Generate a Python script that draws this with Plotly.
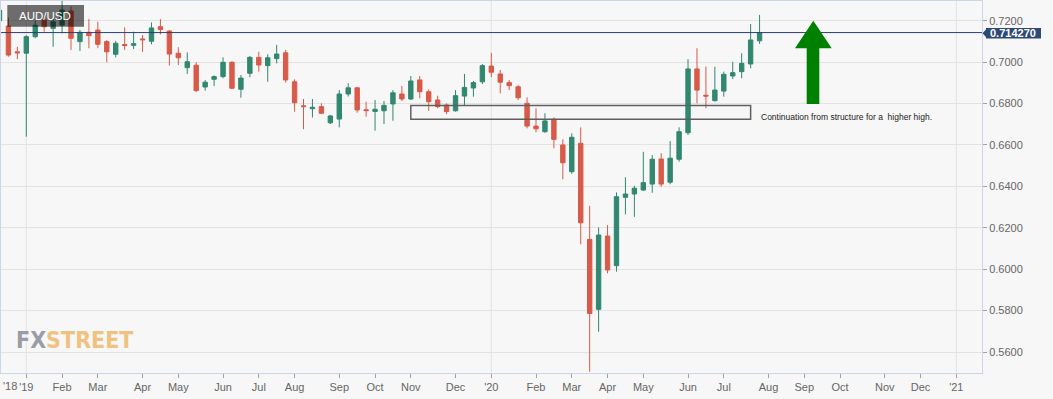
import pandas as pd
import plotly.graph_objects as go

# ---------------- data (weekly AUD/USD candles, week ending Friday) ----------------
first_week = "2018-12-14"
opens = [0.7200, 0.7174, 0.7050,
         0.7043, 0.7123, 0.7203, 0.7163, 0.7179, 0.7247, 0.7099, 0.7144, 0.7155, 0.7099,
         0.7038, 0.7085, 0.7081, 0.7112, 0.7101, 0.7171, 0.7150, 0.7043, 0.6973, 0.6985,
         0.6880, 0.6917, 0.6930, 0.6999, 0.6869, 0.6946, 0.7023, 0.6983, 0.7017, 0.7045,
         0.6905, 0.6789, 0.6775, 0.6785, 0.6707, 0.6725, 0.6846, 0.6876, 0.6770, 0.6762,
         0.6765, 0.6798, 0.6846, 0.6822, 0.6914, 0.6857, 0.6817, 0.6793, 0.6765, 0.6836,
         0.6875, 0.6905, 0.6981, 0.6943, 0.6901, 0.6881, 0.6801, 0.6691, 0.6664, 0.6724,
         0.6600, 0.6471, 0.6608, 0.6144, 0.5806, 0.6160, 0.6017, 0.6347, 0.6363, 0.6382,
         0.6411, 0.6532, 0.6420, 0.6531, 0.6659, 0.6967, 0.6840, 0.6814, 0.6860, 0.6933,
         0.6954, 0.6991, 0.7103]
highs = [0.7262, 0.7215, 0.7074,
         0.7130, 0.7200, 0.7220, 0.7210, 0.7296, 0.7268, 0.7155, 0.7208, 0.7195, 0.7107,
         0.7103, 0.7168, 0.7147, 0.7131, 0.7192, 0.7208, 0.7155, 0.7072, 0.7047, 0.6999,
         0.6914, 0.6936, 0.7023, 0.7005, 0.6938, 0.7030, 0.7050, 0.7038, 0.7083, 0.7059,
         0.6917, 0.6822, 0.6822, 0.6801, 0.6745, 0.6865, 0.6898, 0.6878, 0.6809, 0.6817,
         0.6812, 0.6865, 0.6885, 0.6933, 0.6933, 0.6869, 0.6838, 0.6801, 0.6865, 0.6943,
         0.6909, 0.6991, 0.7045, 0.6962, 0.6914, 0.6889, 0.6830, 0.6777, 0.6753, 0.6733,
         0.6627, 0.6656, 0.6685, 0.6306, 0.6202, 0.6213, 0.6371, 0.6444, 0.6403, 0.6567,
         0.6551, 0.6560, 0.6619, 0.6685, 0.7014, 0.7067, 0.6978, 0.6978, 0.6954, 0.7002,
         0.7043, 0.7184, 0.7228]
lows = [0.7180, 0.7026, 0.7014,
        0.6640, 0.7115, 0.7147, 0.7074, 0.7139, 0.7059, 0.7054, 0.7067, 0.7067, 0.6999,
        0.7023, 0.7059, 0.7063, 0.7050, 0.7086, 0.7134, 0.6983, 0.6986, 0.6943, 0.6857,
        0.6862, 0.6885, 0.6922, 0.6869, 0.6828, 0.6927, 0.6954, 0.6905, 0.6994, 0.6901,
        0.6761, 0.6676, 0.6733, 0.6749, 0.6701, 0.6685, 0.6834, 0.6756, 0.6736, 0.6669,
        0.6701, 0.6717, 0.6812, 0.6817, 0.6825, 0.6765, 0.6777, 0.6749, 0.6761, 0.6793,
        0.6833, 0.6894, 0.6927, 0.6849, 0.6865, 0.6817, 0.6680, 0.6661, 0.6659, 0.6584,
        0.6434, 0.6460, 0.6120, 0.5505, 0.5698, 0.5980, 0.5988, 0.6265, 0.6253, 0.6379,
        0.6369, 0.6398, 0.6410, 0.6519, 0.6648, 0.6801, 0.6777, 0.6809, 0.6833, 0.6918,
        0.6922, 0.6970, 0.7088]
closes = [0.7250, 0.7034, 0.7045,
          0.7123, 0.7178, 0.7171, 0.7195, 0.7252, 0.7115, 0.7144, 0.7128, 0.7086, 0.7050,
          0.7091, 0.7080, 0.7089, 0.7108, 0.7165, 0.7157, 0.7039, 0.7021, 0.7002, 0.6862,
          0.6903, 0.6930, 0.6999, 0.6874, 0.6923, 0.7023, 0.6986, 0.7021, 0.7039, 0.6914,
          0.6804, 0.6785, 0.6782, 0.6753, 0.6740, 0.6846, 0.6876, 0.6769, 0.6766, 0.6772,
          0.6791, 0.6852, 0.6822, 0.6909, 0.6857, 0.6809, 0.6785, 0.6761, 0.6838, 0.6878,
          0.6901, 0.6983, 0.6951, 0.6903, 0.6886, 0.6828, 0.6691, 0.6678, 0.6716, 0.6627,
          0.6514, 0.6637, 0.6224, 0.5786, 0.6165, 0.5996, 0.6350, 0.6363, 0.6391, 0.6418,
          0.6531, 0.6411, 0.6536, 0.6664, 0.6967, 0.6865, 0.6836, 0.6865, 0.6941, 0.6949,
          0.6994, 0.7107, 0.71427]

tick_dates = ["2019-01-04", "2019-02-01", "2019-03-01", "2019-04-05", "2019-05-03",
              "2019-06-07", "2019-07-05", "2019-08-02", "2019-09-06", "2019-10-04",
              "2019-11-01", "2019-12-06", "2020-01-03", "2020-02-07", "2020-03-06",
              "2020-04-03", "2020-05-01", "2020-06-05", "2020-07-03", "2020-08-07",
              "2020-09-04", "2020-10-02", "2020-11-06", "2020-12-04", "2021-01-01"]
tick_labels = ["'19", "Feb", "Mar", "Apr", "May", "Jun", "Jul", "Aug", "Sep", "Oct",
               "Nov", "Dec", "'20", "Feb", "Mar", "Apr", "May", "Jun", "Jul", "Aug",
               "Sep", "Oct", "Nov", "Dec", "'21"]
year_lines = ["2019-01-04", "2020-01-03", "2021-01-01"]
y_ticks = [0.56, 0.58, 0.60, 0.62, 0.64, 0.66, 0.68, 0.70, 0.72]
last_price = 0.714270
structure_low, structure_high = 0.6724, 0.6790
structure_start, structure_end = "2019-11-01", "2020-07-24"

dates = pd.date_range(first_week, periods=len(opens), freq="W-FRI")

# ---------------- layout geometry ----------------
W, H = 1053, 399
PL, PR, PT, PB = 1, 982, 1, 373
pw, ph = PR - PL, PB - PT
Y0, Y1 = 0.54986, 0.72952
base = pd.Timestamp("2019-01-04")
px_per_day = (956.3 - 26.3) / 728.0
x_left = base + pd.Timedelta(days=(PL - 26.3) / px_per_day)
x_right = base + pd.Timedelta(days=(PR - 26.3) / px_per_day)


def fx(px):
    return (px - PL) / pw


def fy(py):
    return 1 - (py - PT) / ph


def vy(v):
    return (v - Y0) / (Y1 - Y0)


UP, DOWN = "#31876f", "#d85a48"

fig = go.Figure()
fig.add_trace(go.Candlestick(
    x=dates, open=opens, high=highs, low=lows, close=closes,
    increasing=dict(line=dict(color=UP, width=1), fillcolor=UP),
    decreasing=dict(line=dict(color=DOWN, width=1), fillcolor=DOWN),
    showlegend=False, hoverinfo="skip",
))

shapes = []
for d in year_lines:
    shapes.append(dict(type="line", xref="x", yref="paper", x0=d, x1=d, y0=0, y1=1,
                       line=dict(color="#e3e3e3", width=1), layer="below"))
# last price line
shapes.append(dict(type="line", xref="paper", yref="paper", x0=0, x1=1,
                   y0=vy(last_price), y1=vy(last_price),
                   line=dict(color="#2a4170", width=1)))
# structure box
shapes.append(dict(type="rect", xref="x", yref="y", x0=structure_start, x1=structure_end,
                   y0=structure_low, y1=structure_high,
                   line=dict(color="#5f5f5f", width=1.5), fillcolor="rgba(0,0,0,0)"))
# green arrow
pts = [(813.3, 20.7), (831.7, 48.3), (819.3, 48.3), (819.3, 104), (806.7, 104),
       (806.7, 48.3), (795, 48.3)]
path = "M " + " L ".join(f"{fx(a):.5f},{fy(b):.5f}" for a, b in pts) + " Z"
shapes.append(dict(type="path", xref="paper", yref="paper", path=path,
                   fillcolor="#008000", line=dict(width=0)))
# AUD/USD label box
shapes.append(dict(type="rect", xref="paper", yref="paper", x0=fx(7.3), x1=fx(84),
                   y0=fy(26.7), y1=fy(5), fillcolor="rgba(0,0,0,0.56)",
                   line=dict(width=0), layer="above"))
# price label box with pointer
py_c = 33.3
shapes.append(dict(type="rect", xref="paper", yref="paper", x0=fx(986), x1=fx(1041),
                   y0=fy(py_c + 5.2), y1=fy(py_c - 5.2), fillcolor="#2d4a74",
                   line=dict(width=0)))
tri = [(982.5, py_c), (986.2, py_c - 4), (986.2, py_c + 4)]
shapes.append(dict(type="path", xref="paper", yref="paper",
                   path="M " + " L ".join(f"{fx(a):.5f},{fy(b):.5f}" for a, b in tri) + " Z",
                   fillcolor="#2d4a74", line=dict(width=0)))

annotations = [
    dict(text="AUD/USD", xref="paper", yref="paper", x=fx(16.5), y=fy(16.5),
         xanchor="left", yanchor="middle", showarrow=False,
         font=dict(family="Liberation Sans, Arial, sans-serif", size=11.5, color="#ffffff")),
    dict(text=f"{last_price:.6f}", xref="paper", yref="paper", x=fx(1013.5), y=fy(py_c),
         xanchor="center", yanchor="middle", showarrow=False,
         font=dict(family="Liberation Sans, Arial, sans-serif", size=11, color="#ffffff",
                   weight="bold")),
    dict(text="Continuation from structure for a\u00a0 higher high.", xref="paper",
         yref="paper", x=fx(759), y=fy(117.3), xanchor="left", yanchor="middle",
         showarrow=False,
         font=dict(family="Liberation Sans, Arial, sans-serif", size=8.5, color="#222222")),
    dict(text="<span style='color:#9a9da6'>FX</span><span style='color:#f0c281'>STREET</span>",
         xref="paper", yref="paper", x=fx(14), y=fy(340), xanchor="left", yanchor="middle",
         showarrow=False,
         font=dict(family="DejaVu Sans Condensed, Liberation Sans Narrow, sans-serif",
                   size=23, weight="bold")),
    dict(text="'18", xref="paper", yref="paper", x=0, y=0, xanchor="left", yanchor="middle",
         yshift=-13, showarrow=False,
         font=dict(family="Liberation Sans, Arial, sans-serif", size=11, color="#666666")),
]

fig.update_layout(
    width=W, height=H,
    margin=dict(l=PL, r=W - PR, t=PT, b=H - PB),
    paper_bgcolor="#f7f7f7", plot_bgcolor="#f7f7f7",
    shapes=shapes, annotations=annotations,
    showlegend=False,
    font=dict(family="Liberation Sans, Arial, sans-serif", size=11, color="#666666"),
    xaxis=dict(
        type="date", range=[x_left, x_right], rangeslider=dict(visible=False),
        tickvals=tick_dates, ticktext=tick_labels, tickangle=0,
        showgrid=False, zeroline=False,
        ticks="outside", ticklen=4, tickcolor="#a0a0a0",
        showline=True, linecolor="#ccd6eb", linewidth=1, mirror=True,
        tickfont=dict(size=11, color="#666666"),
    ),
    yaxis=dict(
        side="right", range=[Y0, Y1],
        tickvals=y_ticks, ticktext=[f"{v:.4f}" for v in y_ticks],
        showgrid=True, gridcolor="#e3e3e3", gridwidth=1, zeroline=False,
        ticks="outside", ticklen=4, tickcolor="#a0a0a0",
        showline=True, linecolor="#ccd6eb", linewidth=1, mirror=True,
        tickfont=dict(size=11, color="#666666"),
    ),
)

fig.write_html(
    "out.html",
    config={"displayModeBar": False},
    post_script="document.body.style.margin='0';document.body.style.overflow='hidden';",
)
